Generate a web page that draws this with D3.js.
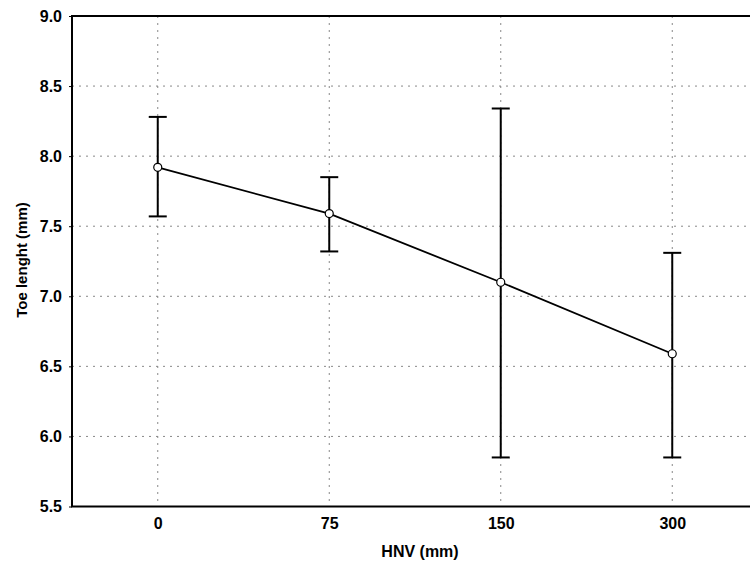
<!DOCTYPE html>
<html>
<head>
<meta charset="utf-8">
<script src="https://cdn.jsdelivr.net/npm/d3@7"></script>
<style>
  body { margin: 0; background: #fff; }
  text { font-family: "Liberation Sans", Arial, sans-serif; font-weight: bold; fill: #000; }
</style>
</head>
<body>
<div id="chart"></div>
<script>
// data
const categories = ["0", "75", "150", "300"];
const means = [7.92, 7.59, 7.10, 6.59];
const upper = [8.28, 7.85, 8.34, 7.31];
const lower = [7.57, 7.32, 5.85, 5.85];
const yTicks = [5.5, 6.0, 6.5, 7.0, 7.5, 8.0, 8.5, 9.0];

const W = 750, H = 562;
const margin = {top: 16, left: 72, bottom: 56};
const plotRight = 758;

const svg = d3.select("#chart").append("svg")
    .attr("width", W)
    .attr("height", H);

const x = d3.scalePoint()
    .domain(categories)
    .range([margin.left, plotRight])
    .padding(0.5);

const y = d3.scaleLinear()
    .domain([5.5, 9.0])
    .range([H - margin.bottom + 0.5, margin.top]);

// grid
const grid = svg.append("g").attr("stroke", "#888").attr("stroke-width", 1)
    .attr("stroke-dasharray", "2,5");
grid.selectAll("line.h")
    .data(yTicks.slice(1, -1))
    .enter().append("line")
    .attr("x1", margin.left).attr("x2", plotRight)
    .attr("y1", d => y(d)).attr("y2", d => y(d));
grid.selectAll("line.v")
    .data(categories)
    .enter().append("line")
    .attr("x1", d => x(d)).attr("x2", d => x(d))
    .attr("y1", margin.top).attr("y2", y(5.5));

// frame
svg.append("rect")
    .attr("x", margin.left).attr("y", margin.top)
    .attr("width", plotRight - margin.left)
    .attr("height", y(5.5) - margin.top)
    .attr("fill", "none")
    .attr("stroke", "#000")
    .attr("stroke-width", 2);

// axes
const yAxis = svg.append("g")
    .attr("transform", "translate(" + margin.left + ",0)")
    .call(d3.axisLeft(y).tickValues(yTicks).tickFormat(d3.format(".1f")).tickSize(3).tickPadding(7));
yAxis.select(".domain").remove();
yAxis.selectAll("text").style("font-size", "16px");

const xAxis = svg.append("g")
    .attr("transform", "translate(0," + y(5.5) + ")")
    .call(d3.axisBottom(x).tickSize(0).tickPadding(11));
xAxis.select(".domain").remove();
xAxis.selectAll("text").style("font-size", "16px");

// error bars
const bars = svg.append("g").attr("stroke", "#000").attr("stroke-width", 2);
bars.selectAll("line.err")
    .data(categories)
    .enter().append("line")
    .attr("x1", d => x(d)).attr("x2", d => x(d))
    .attr("y1", (d, i) => y(upper[i])).attr("y2", (d, i) => y(lower[i]));
bars.selectAll("line.capTop")
    .data(categories)
    .enter().append("line")
    .attr("x1", d => x(d) - 9).attr("x2", d => x(d) + 9)
    .attr("y1", (d, i) => y(upper[i])).attr("y2", (d, i) => y(upper[i]));
bars.selectAll("line.capBot")
    .data(categories)
    .enter().append("line")
    .attr("x1", d => x(d) - 9).attr("x2", d => x(d) + 9)
    .attr("y1", (d, i) => y(lower[i])).attr("y2", (d, i) => y(lower[i]));

// mean line
svg.append("path")
    .datum(categories)
    .attr("fill", "none")
    .attr("stroke", "#000")
    .attr("stroke-width", 1.8)
    .attr("d", d3.line()
        .x(d => x(d))
        .y((d, i) => y(means[i])));

svg.selectAll("circle.pt")
    .data(categories)
    .enter().append("circle")
    .attr("cx", d => x(d))
    .attr("cy", (d, i) => y(means[i]))
    .attr("r", 4)
    .attr("fill", "#fff")
    .attr("stroke", "#000")
    .attr("stroke-width", 1.2);

// titles
svg.append("text")
    .attr("x", 420).attr("y", 557)
    .attr("text-anchor", "middle")
    .style("font-size", "16px")
    .text("HNV (mm)");

svg.append("text")
    .attr("transform", "translate(27," + 260 + ") rotate(-90)")
    .attr("text-anchor", "middle")
    .style("font-size", "15px")
    .text("Toe lenght (mm)");
</script>
</body>
</html>
